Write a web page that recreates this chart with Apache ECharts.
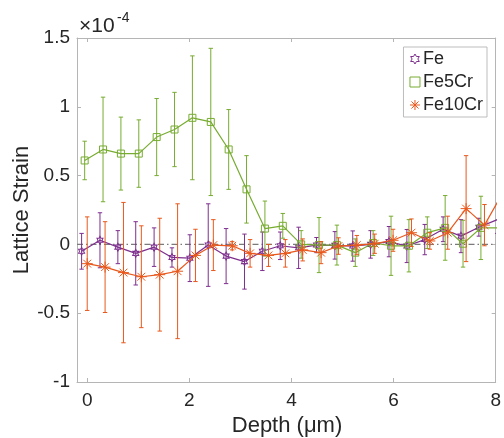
<!DOCTYPE html>
<html>
<head>
<meta charset="utf-8">
<script src="https://cdn.jsdelivr.net/npm/echarts@6/dist/echarts.min.js"></script>
<style>
html,body{margin:0;padding:0;background:#fff;}
#chart{width:504px;height:438px;}
</style>
</head>
<body>
<div id="chart"></div>
<script>
// Depth (um) and lattice strain (x1e-4)
const depthFe = [-0.11, 0.25, 0.60, 0.95, 1.31, 1.66, 2.01, 2.37, 2.72, 3.08, 3.43, 3.78, 4.14, 4.49, 4.85, 5.20, 5.55, 5.91, 6.26, 6.61, 6.97, 7.32, 7.67, 8.03];
const strainFe = [-0.05, 0.03, -0.02, -0.065, -0.02, -0.095, -0.10, -0.005, -0.085, -0.125, -0.05, -0.01, -0.025, -0.005, -0.007, -0.012, 0.0, 0.02, -0.012, 0.035, 0.11, 0.06, 0.125, 0.18];
const errFe = [0.13, 0.20, 0.12, 0.23, 0.14, 0.07, 0.17, 0.30, 0.20, 0.20, 0.14, 0.10, 0.15, 0.055, 0.10, 0.11, 0.10, 0.11, 0.12, 0.11, 0.09, 0.12, 0.065, 0.10];

const depthFe5Cr = [-0.05, 0.31, 0.66, 1.01, 1.36, 1.71, 2.06, 2.42, 2.77, 3.12, 3.48, 3.83, 4.19, 4.54, 4.89, 5.25, 5.60, 5.95, 6.30, 6.66, 7.01, 7.36, 7.71, 8.06];
const strainFe5Cr = [0.61, 0.69, 0.66, 0.66, 0.78, 0.835, 0.92, 0.89, 0.69, 0.40, 0.115, 0.135, 0.0, -0.005, -0.005, -0.06, 0.01, -0.01, -0.01, 0.085, 0.12, 0.005, 0.12, 0.12];
const errFe5Cr = [0.14, 0.38, 0.265, 0.245, 0.28, 0.27, 0.45, 0.535, 0.29, 0.245, 0.20, 0.09, 0.10, 0.20, 0.145, 0.10, 0.09, 0.215, 0.19, 0.115, 0.235, 0.17, 0.23, 0.20];

const depthFe10Cr = [0.0, 0.35, 0.71, 1.06, 1.42, 1.77, 2.12, 2.47, 2.84, 3.19, 3.55, 3.88, 4.22, 4.58, 4.92, 5.28, 5.63, 5.99, 6.35, 6.71, 7.06, 7.42, 7.78, 8.13];
const strainFe10Cr = [-0.14, -0.165, -0.205, -0.235, -0.22, -0.195, -0.08, -0.005, -0.01, -0.065, -0.08, -0.065, -0.04, -0.06, -0.012, -0.005, 0.005, 0.03, 0.085, 0.025, 0.085, 0.26, 0.14, 0.37];
const errFe10Cr = [0.34, 0.33, 0.51, 0.37, 0.41, 0.49, 0.19, 0.185, 0.03, 0.10, 0.08, 0.10, 0.08, 0.08, 0.06, 0.07, 0.07, 0.08, 0.10, 0.06, 0.12, 0.385, 0.15, 0.20];

const xTicks = [0, 2, 4, 6, 8];
const seriesNames = ['Fe', 'Fe5Cr', 'Fe10Cr'];

const colors = ['#7E2F8E', '#77AC30', '#E8581C'];
const hexagram = 'path://M10,0 L12.89,5 L18.66,5 L15.77,10 L18.66,15 L12.89,15 L10,20 L7.11,15 L1.34,15 L4.23,10 L1.34,5 L7.11,5 Z';
const square = 'path://M0,0 L10,0 L10,10 L0,10 Z';
const asterisk = 'path://M0,5 L10,5 M5,0 L5,10 M1.46,1.46 L8.54,8.54 M8.54,1.46 L1.46,8.54';
const symbols = [hexagram, square, asterisk];
const symSizes = [[7, 8], 7, 11];

const sets = [
  [depthFe, strainFe, errFe],
  [depthFe5Cr, strainFe5Cr, errFe5Cr],
  [depthFe10Cr, strainFe10Cr, errFe10Cr]
];

const font = '"Liberation Sans", Arial, Helvetica, sans-serif';
const axisGray = '#b5b5b5';
const textColor = '#262626';

function errRender(color) {
  return function (params, api) {
    const x = api.value(0), y = api.value(1), e = api.value(2);
    const top = api.coord([x, y + e]);
    const bot = api.coord([x, y - e]);
    const w = 2.2;
    const st = { stroke: color, lineWidth: 1, fill: null };
    return {
      type: 'group',
      children: [
        { type: 'line', shape: { x1: top[0], y1: top[1], x2: bot[0], y2: bot[1] }, style: st },
        { type: 'line', shape: { x1: top[0] - w, y1: top[1], x2: top[0] + w, y2: top[1] }, style: st },
        { type: 'line', shape: { x1: bot[0] - w, y1: bot[1], x2: bot[0] + w, y2: bot[1] }, style: st }
      ]
    };
  };
}

const series = [{
  type: 'line',
  name: 'zero',
  data: [[-0.2, 0], [8, 0]],
  symbol: 'none',
  lineStyle: { color: '#7a7a7a', width: 1.3, type: [6, 3, 1.5, 3] },
  silent: true,
  z: 1
}];

sets.forEach((s, i) => {
  const pts = s[0].map((d, k) => [d, s[1][k], s[2][k]]);
  series.push({
    type: 'custom',
    name: seriesNames[i] + '_err',
    data: pts,
    renderItem: errRender(colors[i]),
    encode: { x: 0, y: 1 },
    clip: true,
    silent: true,
    z: 2 + i * 2
  });
  series.push({
    type: 'line',
    name: seriesNames[i],
    data: pts.map(p => [p[0], p[1]]),
    symbol: symbols[i],
    symbolSize: symSizes[i],
    symbolKeepAspect: true,
    showAllSymbol: true,
    clip: true,
    lineStyle: { color: colors[i], width: 1.2 },
    itemStyle: { color: 'transparent', borderColor: colors[i], borderWidth: 1 },
    z: 3 + i * 2
  });
});

function axisBase(extra) {
  return Object.assign({
    type: 'value',
    axisLine: { show: true, onZero: false, lineStyle: { color: axisGray, width: 1 } },
    splitLine: { show: false }
  }, extra);
}

const chart = echarts.init(document.getElementById('chart'), null, { renderer: 'canvas' });
chart.setOption({
  animation: false,
  backgroundColor: '#fff',
  grid: { left: 77, right: 6, top: 38, bottom: 56, containLabel: false },
  xAxis: [axisBase({
    min: -0.2, max: 8, position: 'bottom',
    axisTick: { show: true, inside: true, length: 4, customValues: xTicks, lineStyle: { color: axisGray } },
    axisLabel: { customValues: xTicks, color: textColor, fontSize: 19, fontFamily: font, margin: 9 }
  }), axisBase({
    min: -0.2, max: 8, position: 'top',
    axisTick: { show: true, inside: true, length: 4, customValues: xTicks, lineStyle: { color: axisGray } },
    axisLabel: { show: false }
  })],
  yAxis: [axisBase({
    min: -1, max: 1.5, interval: 0.5, position: 'left',
    axisTick: { show: true, inside: true, length: 4, lineStyle: { color: axisGray } },
    axisLabel: { color: textColor, fontSize: 19, fontFamily: font, margin: 7 }
  }), axisBase({
    min: -1, max: 1.5, interval: 0.5, position: 'right',
    axisTick: { show: true, inside: true, length: 4, lineStyle: { color: axisGray } },
    axisLabel: { show: false }
  })],
  legend: {
    orient: 'vertical',
    right: 17,
    top: 47,
    backgroundColor: '#fff',
    borderColor: '#bdbdbd',
    borderWidth: 1,
    borderRadius: 0,
    padding: [2, 4, 2, 6],
    itemGap: 3,
    itemWidth: 10,
    itemHeight: 10,
    textStyle: { fontSize: 18, fontFamily: font, color: textColor, lineHeight: 20, padding: [0, 0, 0, -2] },
    data: seriesNames.map((n, i) => ({
      name: n,
      icon: symbols[i],
      itemStyle: { color: 'transparent', borderColor: colors[i], borderWidth: 1 }
    }))
  },
  graphic: [
    {
      type: 'text', left: 79, top: 16,
      style: { text: '×10', font: '21px ' + font, fill: textColor }
    },
    {
      type: 'text', left: 117, top: 11,
      style: { text: '-4', font: '14px ' + font, fill: textColor }
    },
    {
      type: 'text', x: 22, y: 210, rotation: Math.PI / 2,
      style: { text: 'Lattice Strain', font: '22px ' + font, fill: textColor, textAlign: 'center', textVerticalAlign: 'middle' }
    },
    {
      type: 'text', x: 287, y: 426,
      style: { text: 'Depth (μm)', font: '22px ' + font, fill: textColor, textAlign: 'center', textVerticalAlign: 'middle' }
    }
  ],
  series: series
});
</script>
</body>
</html>
